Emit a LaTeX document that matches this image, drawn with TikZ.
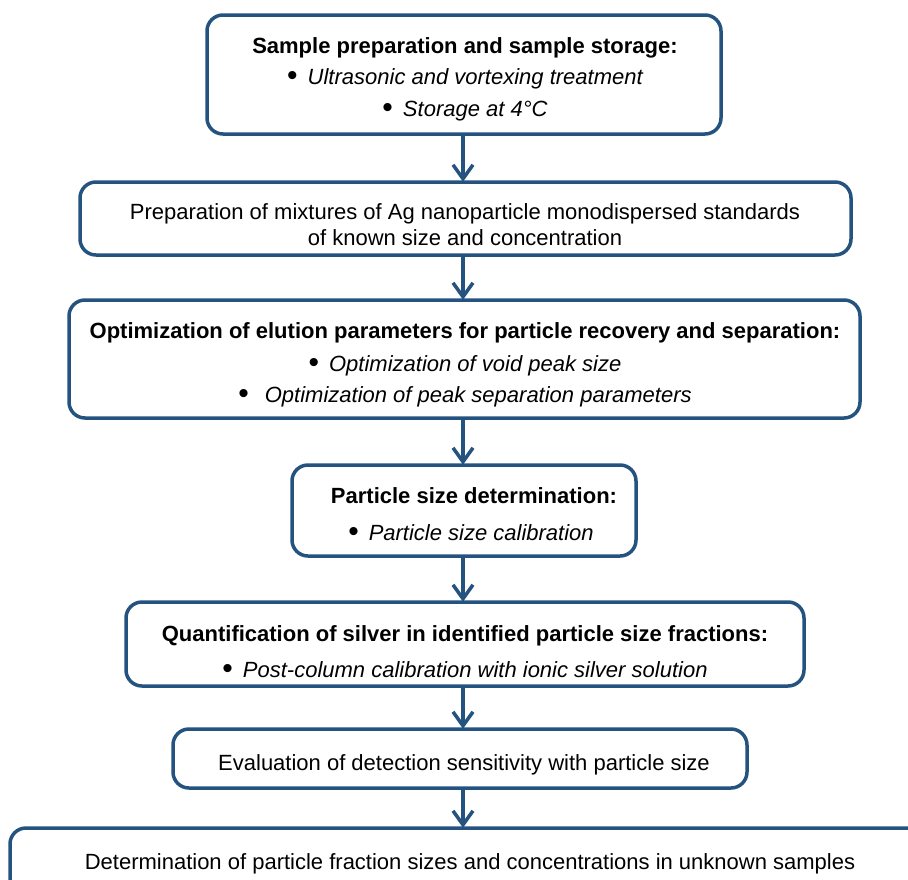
\documentclass[tikz,border=0pt]{standalone}
\usepackage{fontspec}
\setmainfont{Liberation Sans}
\usetikzlibrary{arrows.meta}
\definecolor{boxblue}{HTML}{255380}
\tikzset{
  stage/.style={draw=boxblue, line width=3.5pt, rounded corners=16pt, fill=white, inner sep=0pt},
  slot/.style={inner sep=0pt},
  txt/.style={anchor=base, inner sep=0pt, font=\fontsize{22}{26}\selectfont},
  ttl/.style={txt, font=\fontsize{22}{26}\selectfont\bfseries},
  itm/.style={txt, font=\fontsize{22}{26}\selectfont\itshape},
  flow/.style={draw=boxblue, line width=3.5pt, -{Straight Barb[length=14pt,width=20pt]}}
}
\newcommand{\bul}{\textup{\fontsize{30}{30}\selectfont\raisebox{-1.5pt}{•}}\hspace{10pt}}
\begin{document}
\begin{tikzpicture}[x=1pt,y=-1pt]
\useasboundingbox (0,0) rectangle (908,879);
\clip (0,0) rectangle (908,879);
% stage boxes
\draw[stage] (207,15) rectangle (721,134);
\node[slot] (b1) at (464,74.5) [minimum width=514pt, minimum height=119pt] {};
\draw[stage] (80,182) rectangle (851,255);
\node[slot] (b2) at (465.5,218.5) [minimum width=771pt, minimum height=73pt] {};
\draw[stage] (69,300) rectangle (860,418);
\node[slot] (b3) at (464.5,359) [minimum width=791pt, minimum height=118pt] {};
\draw[stage] (292,465) rectangle (636,556);
\node[slot] (b4) at (464,510.5) [minimum width=344pt, minimum height=91pt] {};
\draw[stage] (126,602) rectangle (804,686);
\node[slot] (b5) at (465,644) [minimum width=678pt, minimum height=84pt] {};
\draw[stage] (173,729) rectangle (747,788);
\node[slot] (b6) at (460,758.5) [minimum width=574pt, minimum height=59pt] {};
\draw[stage] (10,828) rectangle (940,920);
\node[slot] (b7) at (475,874) [minimum width=930pt, minimum height=92pt] {};

% texts
\node[ttl] (t1a) at (465,53) {Sample preparation and sample storage:};
\node[itm] (t1b) at (465,84) {\bul Ultrasonic and vortexing treatment};
\node[itm] (t1c) at (465,116) {\bul Storage at 4°C};

\node[txt] (t2a) at (465,219) {Preparation of mixtures of Ag nanoparticle monodispersed standards};
\node[txt] (t2b) at (465,245) {of known size and concentration};

\node[ttl] (t3a) at (465,338) {Optimization of elution parameters for particle recovery and separation:};
\node[itm] (t3b) at (465,371) {\bul Optimization of void peak size};
\node[itm] (t3c) at (465,402) {\bul\hspace{6pt}Optimization of peak separation parameters};

\node[ttl] (t4a) at (474,503) {Particle size determination:};
\node[itm] (t4b) at (471,540) {\bul Particle size calibration};

\node[ttl] (t5a) at (465,641) {Quantification of silver in identified particle size fractions:};
\node[itm] (t5b) at (465,677) {\bul Post-column calibration with ionic silver solution};

\node[txt] (t6a) at (464,770) {Evaluation of detection sensitivity with particle size};

\node[txt] (t7a) at (470,869) {Determination of particle fraction sizes and concentrations in unknown samples};

% connectors
\draw[flow] (b1.south -| 463,0) -- (b2.north -| 463,0);
\draw[flow] (b2.south -| 463,0) -- (b3.north -| 463,0);
\draw[flow] (b3.south -| 463,0) -- (b4.north -| 463,0);
\draw[flow] (b4.south -| 463,0) -- (b5.north -| 463,0);
\draw[flow] (b5.south -| 463,0) -- (b6.north -| 463,0);
\draw[flow] (b6.south -| 463,0) -- (b7.north -| 463,0);
\end{tikzpicture}
\end{document}
